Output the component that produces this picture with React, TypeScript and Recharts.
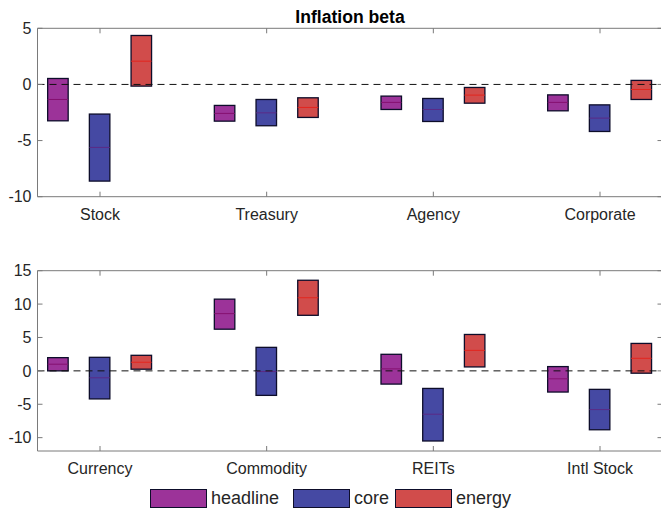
import React from "react";
import {
  Bar,
  ComposedChart,
  Legend,
  ReferenceLine,
  XAxis,
  YAxis,
} from "recharts";

// Inflation beta: two panels of floating range boxes (low..high) with a
// median line, three series per asset class.

const topCategories = ["Stock", "Treasury", "Agency", "Corporate"];
const bottomCategories = ["Currency", "Commodity", "REITs", "Intl Stock"];

// each entry: [low, mid, high]
const topHeadline = [
  [-3.24, -1.34, 0.53],
  [-3.27, -2.58, -1.87],
  [-2.23, -1.6, -1.04],
  [-2.35, -1.6, -0.93],
];
const topCore = [
  [-8.61, -5.61, -2.64],
  [-3.68, -2.53, -1.34],
  [-3.3, -2.23, -1.25],
  [-4.19, -3.0, -1.82],
];
const topEnergy = [
  [-0.15, 2.07, 4.36],
  [-2.94, -2.05, -1.19],
  [-1.67, -0.95, -0.27],
  [-1.34, -0.45, 0.36],
];

const bottomHeadline = [
  [0.0, 1.0, 1.98],
  [6.24, 8.57, 10.74],
  [-1.98, 0.3, 2.48],
  [-3.17, -1.19, 0.64],
];
const bottomCore = [
  [-4.2, -1.04, 2.03],
  [-3.67, -0.1, 3.52],
  [-10.5, -6.49, -2.63],
  [-8.82, -5.8, -2.77],
];
const bottomEnergy = [
  [0.25, 1.29, 2.33],
  [8.32, 10.95, 13.57],
  [0.59, 3.07, 5.45],
  [-0.35, 1.88, 4.11],
];

const topTicks = [-10, -5, 0, 5];
const bottomTicks = [-10, -5, 0, 5, 10, 15];
const xTicks = [1, 2, 3, 4];

const FONT = "'Liberation Sans', Arial, Helvetica, sans-serif";
const TEXT = "#262626";
const AXIS = "#7a7a7a";
const EDGE = "#0d0d2a";

const SERIES = [
  { key: "headline", fill: "#9c3399", mid: "#851070" },
  { key: "core", fill: "#4549a3", mid: "#5b2a86" },
  { key: "energy", fill: "#d14c4b", mid: "#e3261f" },
];
const seriesOrder = SERIES.map((s) => s.key);

function buildRows(cats: string[], h: number[][], c: number[][], e: number[][]) {
  return cats.map((name, i) => ({
    x: i + 1,
    name,
    headline: [h[i][0], h[i][2]],
    headlineMid: h[i][1],
    core: [c[i][0], c[i][2]],
    coreMid: c[i][1],
    energy: [e[i][0], e[i][2]],
    energyMid: e[i][1],
  }));
}

const topRows = buildRows(topCategories, topHeadline, topCore, topEnergy);
const bottomRows = buildRows(bottomCategories, bottomHeadline, bottomCore, bottomEnergy);

const makeBox = (key: string, midColor: string) => (props: any) => {
  const { x, y, width, height, payload, fill } = props;
  const [lo, hi] = payload[key];
  const mid = payload[key + "Mid"];
  const top = Math.min(y, y + height);
  const h = Math.abs(height);
  const my = top + (h * (hi - mid)) / (hi - lo);
  return (
    <g>
      <rect x={x} y={top} width={width} height={h} fill={fill} stroke={EDGE} strokeWidth={1.3} />
      <line x1={x} x2={x + width} y1={my} y2={my} stroke={midColor} strokeWidth={1} />
    </g>
  );
};

const LeftTick = (props: any) => {
  const { x, y, payload } = props;
  return (
    <g>
      <line x1={x + 6} x2={x + 11} y1={y} y2={y} stroke={AXIS} />
      <text x={x} y={y} dy="0.355em" textAnchor="end" fill={TEXT} fontSize={16} fontFamily={FONT}>
        {payload.value}
      </text>
    </g>
  );
};

const RightTick = (props: any) => {
  const { x, y } = props;
  return <line x1={x - 5} x2={x} y1={y} y2={y} stroke={AXIS} />;
};

const TopTick = (props: any) => {
  const { x, y } = props;
  return <line x1={x} x2={x} y1={y} y2={y + 5} stroke={AXIS} />;
};

const makeBottomTick = (cats: string[]) => (props: any) => {
  const { x, y, payload } = props;
  return (
    <g>
      <line x1={x} x2={x} y1={y - 12} y2={y - 17} stroke={AXIS} />
      <text x={x} y={y} dy="0.71em" textAnchor="middle" fill={TEXT} fontSize={16} fontFamily={FONT}>
        {cats[payload.value - 1]}
      </text>
    </g>
  );
};

const LegendContent = (props: any) => {
  const items = [...(props.payload || [])].sort(
    (a: any, b: any) => seriesOrder.indexOf(a.value) - seriesOrder.indexOf(b.value)
  );
  const gaps = [14, 6, 0];
  return (
    <div
      style={{
        display: "flex",
        justifyContent: "center",
        alignItems: "center",
        height: 20,
        fontFamily: FONT,
        fontSize: 18,
        color: TEXT,
      }}
    >
      {items.map((p: any, i: number) => (
        <div key={p.value} style={{ display: "flex", alignItems: "center", marginRight: gaps[i] }}>
          <div
            style={{
              width: 55,
              height: 17,
              background: p.color,
              border: `1px solid ${EDGE}`,
              marginRight: 4,
            }}
          />
          <span>{p.value}</span>
        </div>
      ))}
    </div>
  );
};

function Panel({
  rows,
  cats,
  domain,
  ticks,
  height,
  margin,
  legend,
}: {
  rows: any[];
  cats: string[];
  domain: [number, number];
  ticks: number[];
  height: number;
  margin: { top: number; right: number; bottom: number; left: number };
  legend?: boolean;
}) {
  // axes take 1px each, so the margins are trimmed by 1
  const m = {
    top: margin.top - 1,
    right: margin.right - 1,
    bottom: margin.bottom - 1,
    left: margin.left - 1,
  };
  return (
    <ComposedChart width={700} height={height} data={rows} margin={m} barGap={21.2}>
      <XAxis
        dataKey="x"
        type="number"
        domain={[0.625, 4.375]}
        ticks={xTicks}
        interval={0}
        height={1}
        tickSize={0}
        tickMargin={12}
        tickLine={false}
        stroke={AXIS}
        tick={makeBottomTick(cats)}
        allowDataOverflow
      />
      <XAxis
        xAxisId="top"
        orientation="top"
        dataKey="x"
        type="number"
        domain={[0.625, 4.375]}
        ticks={xTicks}
        interval={0}
        height={1}
        tickSize={0}
        tickMargin={0}
        tickLine={false}
        stroke={AXIS}
        tick={TopTick}
        allowDataOverflow
      />
      <YAxis
        type="number"
        domain={domain}
        ticks={ticks}
        interval={0}
        width={1}
        tickSize={0}
        tickMargin={6}
        tickLine={false}
        stroke={AXIS}
        tick={LeftTick}
        allowDataOverflow
      />
      <YAxis
        yAxisId="r"
        orientation="right"
        type="number"
        domain={domain}
        ticks={ticks}
        interval={0}
        width={1}
        tickSize={0}
        tickMargin={0}
        tickLine={false}
        stroke={AXIS}
        tick={RightTick}
        allowDataOverflow
      />
      {SERIES.map((s) => (
        <Bar
          key={s.key}
          dataKey={s.key}
          name={s.key}
          fill={s.fill}
          barSize={20.5}
          shape={makeBox(s.key, s.mid)}
          isAnimationActive={false}
        />
      ))}
      <ReferenceLine y={0} stroke="#111" strokeDasharray="7 5" strokeWidth={1} />
      {legend && (
        <Legend
          verticalAlign="bottom"
          content={LegendContent}
          wrapperStyle={{ left: 0, width: 661, bottom: 3 }}
        />
      )}
    </ComposedChart>
  );
}

export default function App() {
  return (
    <div
      style={{
        position: "absolute",
        left: 0,
        top: 0,
        width: 661,
        height: 511,
        overflow: "hidden",
        background: "#fff",
        fontFamily: FONT,
      }}
    >
      <div
        style={{
          position: "absolute",
          left: 37.5,
          width: 625,
          top: 6.6,
          lineHeight: "20px",
          textAlign: "center",
          fontWeight: "bold",
          fontSize: 17.6,
          color: "#000",
        }}
      >
        Inflation beta
      </div>
      <div style={{ position: "absolute", left: 0, top: 0 }}>
        <Panel
          rows={topRows}
          cats={topCategories}
          domain={[-10, 5]}
          ticks={topTicks}
          height={230}
          margin={{ top: 28.3, right: 37.5, bottom: 33.3, left: 37.5 }}
        />
      </div>
      <div style={{ position: "absolute", left: 0, top: 240 }}>
        <Panel
          rows={bottomRows}
          cats={bottomCategories}
          domain={[-12, 15]}
          ticks={bottomTicks}
          height={271}
          margin={{ top: 30.7, right: 37.5, bottom: 40, left: 37.5 }}
          legend
        />
      </div>
    </div>
  );
}
